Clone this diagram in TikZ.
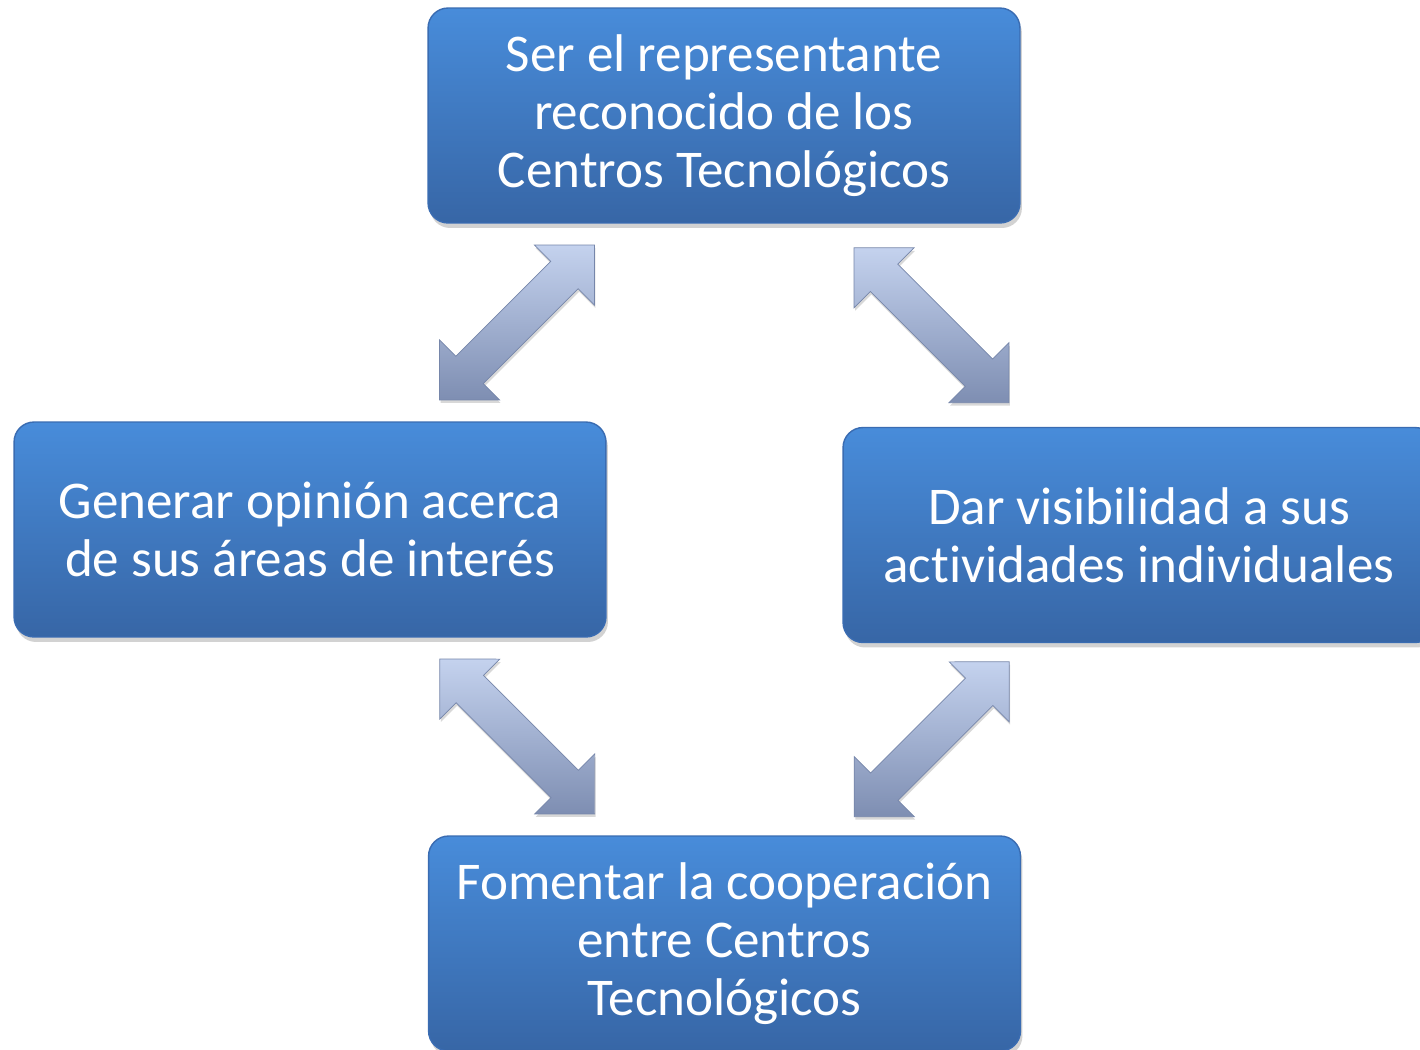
\documentclass[tikz,border=0pt]{standalone}
\usepackage{fontspec}
\setmainfont{Carlito}[Ligatures=NoCommon]
\usetikzlibrary{shapes.arrows,shadows,calc}
\definecolor{boxtop}{RGB}{72,140,218}
\definecolor{boxbottom}{RGB}{55,102,166}
\definecolor{boxline}{RGB}{58,108,178}
\definecolor{arrowlight}{RGB}{196,210,238}
\definecolor{arrowmid}{RGB}{172,188,222}
\definecolor{arrowdark}{RGB}{126,142,178}
\definecolor{arrowline}{RGB}{118,134,170}

\tikzset{
    goalbox/.style={rectangle, draw=boxline, thick, rounded corners=0.4cm,
        minimum width=11.84cm, minimum height=4.3cm,
        top color=boxtop, bottom color=boxbottom, text=white, align=center,
        font=\fontsize{30.2}{33}\selectfont,
        drop shadow={opacity=0.35, shadow xshift=0.04cm, shadow yshift=-0.1cm}},
    linkarrow/.style={double arrow, draw=arrowline, inner xsep=0pt, inner ysep=0.38cm,
        minimum height=4.38cm,
        double arrow head extend=0.46cm, double arrow tip angle=90,
        top color=arrowlight, middle color=arrowmid, bottom color=arrowdark,
        drop shadow={opacity=0.3, shadow xshift=0.02cm, shadow yshift=-0.06cm}}
}

\begin{document}
\begin{tikzpicture}[x=0.02cm, y=-0.02cm]
    \useasboundingbox (0,0) rectangle (1420,1049);
    \clip (0,0) rectangle (1420,1049);
    \fill[white] (0,0) rectangle (1420,1049);

    % Goals
    \node[goalbox] (ser) at (724,115.5) {Ser el representante\\reconocido de los\\Centros Tecnológicos};
    \node[goalbox] (gen) at (310,529.5) {Generar opinión acerca\\de sus áreas de interés};
    \node[goalbox] (dar) at (1139,535) {Dar visibilidad a sus\\actividades individuales};
    \node[goalbox] (fom) at (724.5,943.5) {Fomentar la cooperación\\entre Centros\\Tecnológicos};

    % Links between goals
    \node[linkarrow, rotate=45] (gen-ser) at ($(gen.north east)!0.5!(ser.south west)$) {};
    \node[linkarrow, rotate=-45] (ser-dar) at ($(ser.south east)!0.5!(dar.north west)$) {};
    \node[linkarrow, rotate=-45] (gen-fom) at ($(gen.south east)!0.5!(fom.north west)$) {};
    \node[linkarrow, rotate=45] (dar-fom) at ($(dar.south west)!0.5!(fom.north east)$) {};
\end{tikzpicture}
\end{document}
